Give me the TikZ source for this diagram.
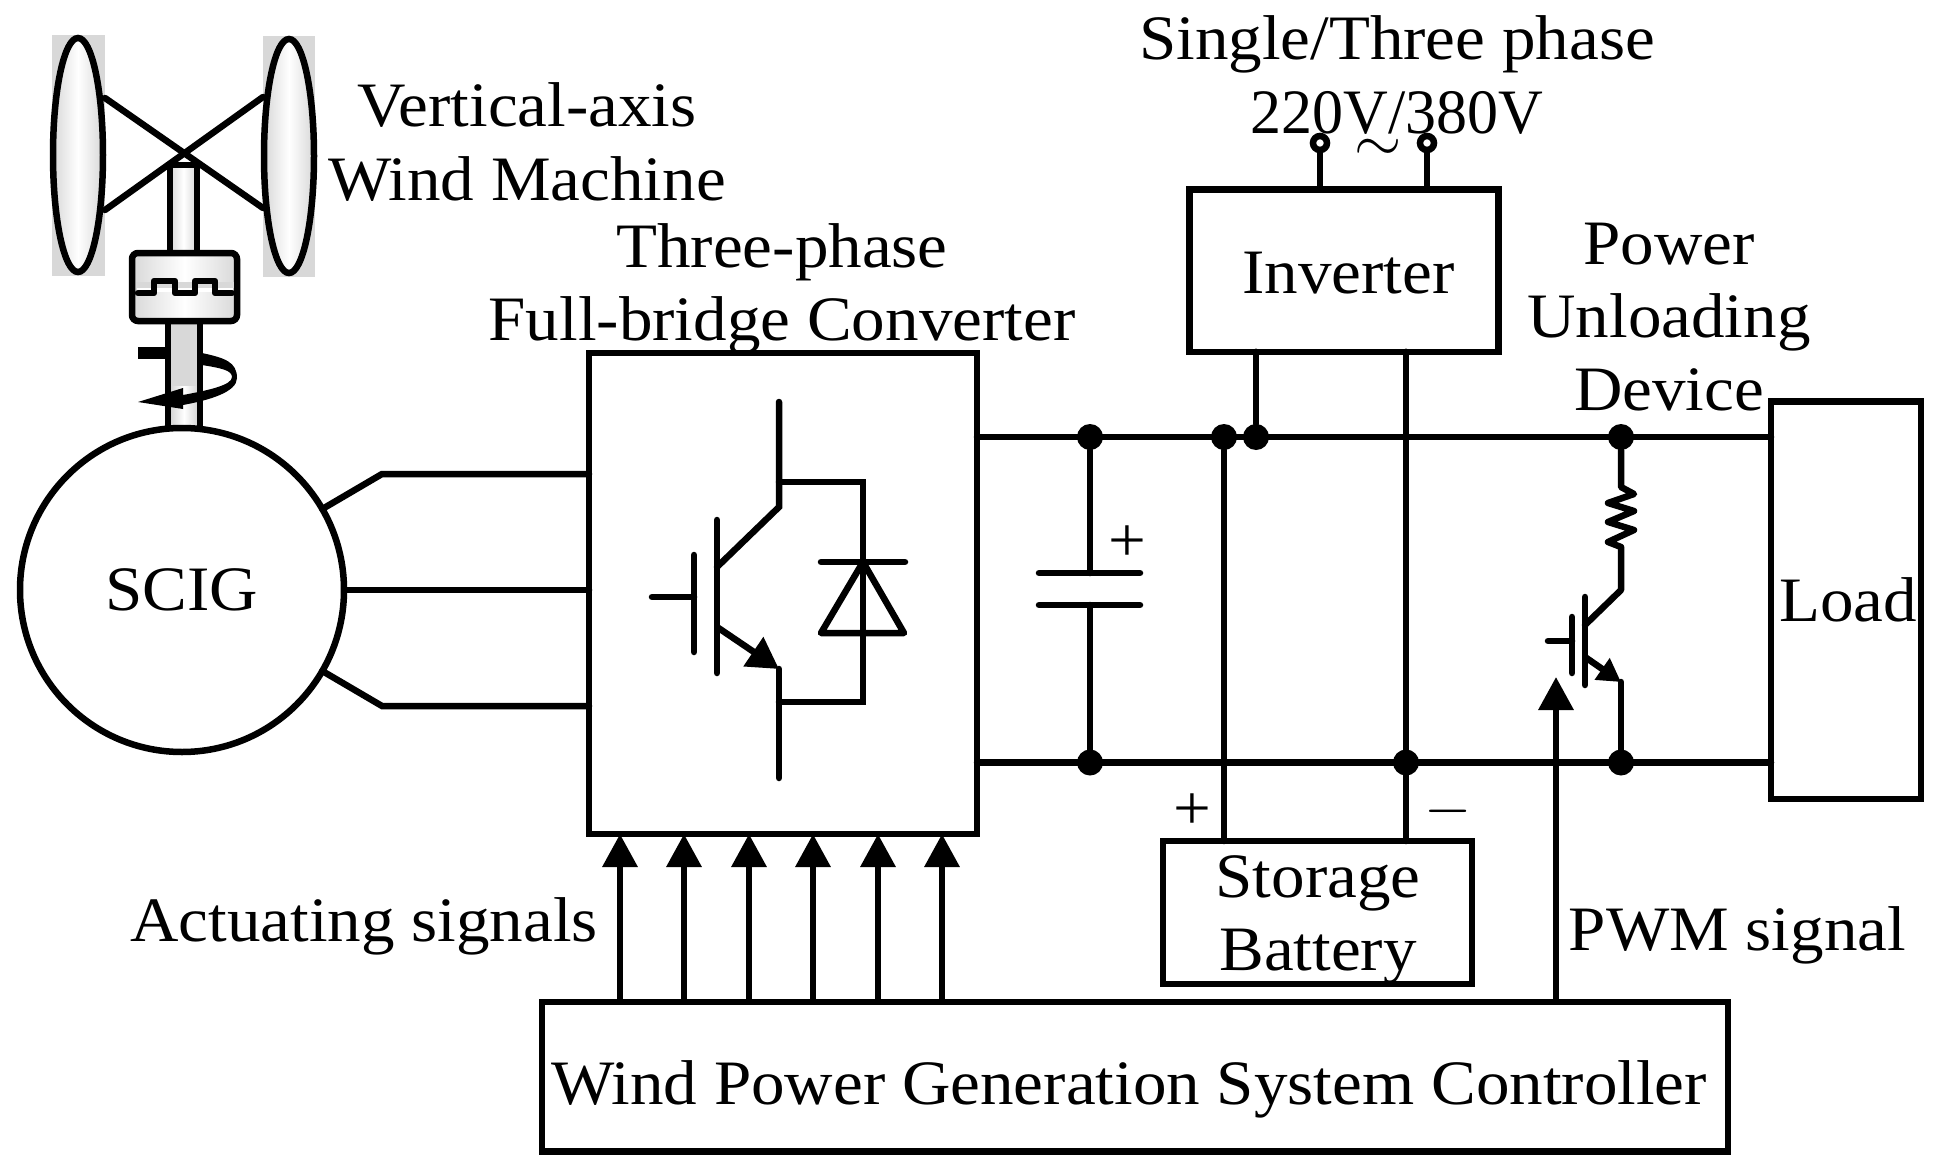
\documentclass[tikz,border=0pt]{standalone}
\usepackage{fontspec}
\setmainfont{Liberation Serif}[FakeStretch=1.06]
\usepackage{tikz}
\usetikzlibrary{shapes, arrows.meta}

\definecolor{bladegray}{HTML}{D8D8D8}

\tikzset{
  box/.style={draw=black, rectangle, inner sep=0pt, outer sep=0pt},
  lbl/.style={inner sep=0pt, align=center},
  dot/.style={circle, fill=black, inner sep=0pt, outer sep=0pt, minimum size=2.6mm},
  term/.style={draw=black, circle, fill=white, inner sep=0pt, outer sep=0pt, minimum size=1.4mm},
  sig/.style={-{Triangle[length=3.3mm, width=3.4mm]}, line cap=butt},
  shade lr/.style={left color=bladegray, right color=bladegray, middle color=white},
}

\begin{document}
\begin{tikzpicture}[line width=0.65mm, line cap=round, font=\fontsize{18}{20.8}\selectfont]
\useasboundingbox (0,0) rectangle (19.42,-11.72);

\node[box, draw=none, fill=bladegray, minimum width=0.53cm, minimum height=2.41cm] (backL) at (0.785,-1.555) {};
\node[box, draw=none, fill=bladegray, minimum width=0.52cm, minimum height=2.41cm] (backR) at (2.89,-1.565) {};
\draw (backL.east |- 0,-0.98) -- (backR.west |- 0,-2.08);
\draw (backL.east |- 0,-2.10) -- (backR.west |- 0,-0.97);
\node[box, ellipse, shade lr, minimum width=0.50cm, minimum height=2.34cm] (bladeL) at (0.78,-1.55) {};
\node[box, ellipse, shade lr, minimum width=0.50cm, minimum height=2.34cm] (bladeR) at (2.89,-1.56) {};

\node[box, shade lr, minimum width=0.27cm, minimum height=0.88cm] (shaftT) at (1.835,-2.09) {};
\node[box, fill=bladegray, minimum width=0.32cm, minimum height=1.07cm] (shaftB) at (1.84,-3.745) {};
\node[shade lr, inner sep=0pt, minimum width=0.25cm, minimum height=0.40cm] (shaftS) at (1.84,-4.06) {};

\node[box, shade lr, rounded corners=0.6mm, minimum width=1.05cm, minimum height=0.68cm] (gear) at (1.845,-2.87) {};
\fill[bladegray] (1.36,-2.82) rectangle (2.34,-2.88);
\fill[white] (1.37,-2.88) rectangle (2.33,-2.92);
\draw[line join=round] (1.38,-2.93) -- (1.54,-2.93) -- (1.54,-2.81) -- (1.75,-2.81) -- (1.75,-2.93) -- (1.95,-2.93) -- (1.95,-2.81) -- (2.15,-2.81) -- (2.15,-2.93) -- (2.32,-2.93);

\fill (1.38,-3.47) rectangle (1.67,-3.59);
\fill (2.02,-3.53) .. controls (2.25,-3.58) and (2.37,-3.62) .. (2.37,-3.78)
  .. controls (2.37,-3.92) and (2.10,-4.00) .. (1.83,-4.05) -- (1.83,-4.09) -- (1.38,-4.02) -- (1.83,-3.88) -- (1.83,-3.95)
  .. controls (2.10,-3.90) and (2.32,-3.85) .. (2.32,-3.77)
  .. controls (2.32,-3.70) and (2.20,-3.68) .. (2.02,-3.65) -- cycle;

\node[box, circle, minimum size=3.24cm] (scig) at (1.82,-5.90) {SCIG};
\node[lbl] (wind) at (5.27,-1.42) {Vertical-axis\\Wind Machine};

\node[box, minimum width=3.88cm, minimum height=4.81cm] (conv) at (7.83,-5.935) {};
\node[lbl] (convname) at (7.82,-2.885) {Three-phase\\Full-bridge Converter};

\coordinate (phaseA) at (3.82,-4.74);
\coordinate (phaseC) at (3.82,-7.06);
\draw (scig.30) -- (phaseA) -- (phaseA -| conv.west);
\draw (scig.east) -- (scig.east -| conv.west);
\draw (scig.-30) -- (phaseC) -- (phaseC -| conv.west);

\coordinate (igbtC) at (7.79,-5.07);
\coordinate (igbtE) at (7.79,-6.69);
\draw (7.79,-4.02) -- (igbtC) -- (7.17,-5.67);
\draw (7.17,-5.20) -- (7.17,-6.73);
\draw (6.94,-5.55) -- (6.94,-6.52);
\draw (6.52,-5.97) -- (6.94,-5.97);
\draw[-{Triangle[length=3.1mm, width=3.4mm]}, line cap=butt] (7.17,-6.27) -- (igbtE);
\draw (igbtE) -- (7.79,-7.78);
\draw (7.79,-4.82) -- (8.63,-4.82) -- (8.63,-7.02) -- (7.79,-7.02);
\draw (8.21,-5.62) -- (9.05,-5.62);
\draw[line join=round] (8.63,-5.62) -- (8.21,-6.33) -- (9.04,-6.33) -- cycle;

\node[box, minimum width=3.09cm, minimum height=1.625cm] (inv) at (13.44,-2.705) {};
\node[lbl] (invname) at (13.485,-2.73) {Inverter};
\node[box, minimum width=3.09cm, minimum height=1.43cm] (bat) at (13.175,-9.125) {};
\node[lbl] (batname) at (13.18,-9.20) {Storage\\Battery};
\node[box, minimum width=1.50cm, minimum height=3.975cm] (load) at (18.46,-6.00) {};
\node[lbl] (loadname) at (18.48,-6.00) {Load};
\node[box, minimum width=11.86cm, minimum height=1.495cm] (ctrl) at (11.35,-10.765) {};
\node[lbl] (ctrlname) at (11.29,-10.89) {Wind Power Generation System Controller};

\node[dot] (capT) at (10.90,-4.37) {};
\node[dot] (batT) at (12.24,-4.37) {};
\node[dot] (invT) at (12.56,-4.37) {};
\node[dot] (resT) at (16.21,-4.37) {};
\node[dot] (capB) at (10.90,-7.625) {};
\node[dot] (invB) at (14.06,-7.625) {};
\node[dot] (igbB) at (16.21,-7.625) {};

\draw (capT -| conv.east) -- (capT -| load.west);
\draw (capB -| conv.east) -- (capB -| load.west);

\coordinate (capU) at (10.90,-5.73);
\coordinate (capD) at (10.90,-6.05);
\draw (capT) -- (capU);
\draw (capD) -- (capB);
\draw (10.39,-5.73) -- (11.40,-5.73);
\draw (10.39,-6.05) -- (11.40,-6.05);
\node[lbl] (capplus) at (11.27,-5.44) {+};

\draw (batT) -- (batT |- bat.north);
\draw (invT) -- (invT |- inv.south);
\draw (invB |- inv.south) -- (invB |- bat.north);
\node[lbl] (batplus) at (11.92,-8.12) {+};
\node[lbl] (batminus) at (14.48,-8.11) {$-$};

\node[lbl] (acname) at (13.97,-0.75) {Single/Three phase\\{\addfontfeature{FakeStretch=0.98}220V/380V}};
\node[term] (termA) at (13.20,-1.43) {};
\node[term] (termB) at (14.27,-1.43) {};
\draw (termA) -- (termA |- inv.north);
\draw (termB) -- (termB |- inv.north);
\node[lbl] (tilde) at (13.78,-1.50) {$\sim$};

\node[lbl] (unload) at (16.69,-3.17) {Power\\Unloading\\Device};
\draw[line join=round] (resT) -- (16.21,-4.87) -- (16.34,-4.94) -- (16.08,-5.03) -- (16.34,-5.11) -- (16.08,-5.22) -- (16.34,-5.30) -- (16.08,-5.42) -- (16.21,-5.47) -- (16.21,-5.90) -- (15.85,-6.25);
\draw (15.85,-5.97) -- (15.85,-6.85);
\draw (15.72,-6.17) -- (15.72,-6.73);
\draw (15.48,-6.41) -- (15.72,-6.41);
\coordinate (resE) at (16.21,-6.82);
\draw[-{Triangle[length=2.3mm, width=2.5mm]}, line cap=butt] (15.85,-6.57) -- (resE);
\draw (resE) -- (igbB);

\foreach \i/\x in {1/6.20, 2/6.84, 3/7.49, 4/8.13, 5/8.78, 6/9.42}{
  \coordinate (drv\i) at (\x,-9);
  \draw[sig] (ctrl.north -| drv\i) -- (conv.south -| drv\i);
}
\node[lbl] (drvname) at (3.64,-9.26) {Actuating signals};

\coordinate (pwm) at (15.56,-9);
\draw[sig] (ctrl.north -| pwm) -- (15.56,-6.77);
\node[lbl] (pwmname) at (17.375,-9.35) {PWM signal};

\end{tikzpicture}
\end{document}
